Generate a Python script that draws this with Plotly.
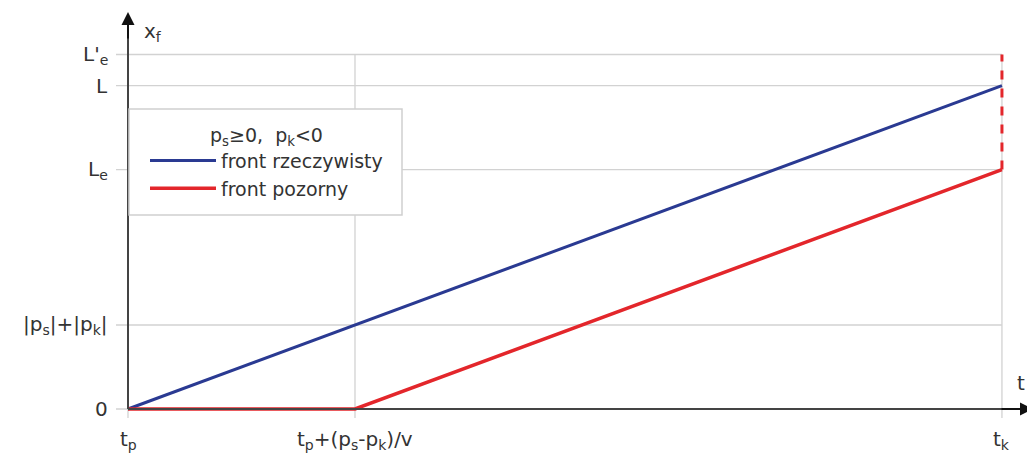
import plotly.graph_objects as go

# ---- data (schematic units: tp = 0, (ps-pk)/v = 1, |ps|+|pk| = 1) ----
x_ticks = [0.0, 1.0, 3.85]
x_labels = ["t<sub>p</sub>", "t<sub>p</sub>+(p<sub>s</sub>-p<sub>k</sub>)/v", "t<sub>k</sub>"]
y_ticks = [0.0, 1.0, 2.85, 3.85, 4.22]
y_labels = ["0", "|p<sub>s</sub>|+|p<sub>k</sub>|", "L<sub>e</sub>", "L", "L'<sub>e</sub>"]

real_x = [0.0, 3.85]
real_y = [0.0, 3.85]
apparent_x = [0.0, 1.0, 3.85]
apparent_y = [0.0, 0.0, 2.85]
jump_x = [3.85, 3.85]
jump_y = [2.85, 4.22]

W, H = 1035, 459
OFF = 8  # page body margin offset
sx, sy = 227.0, 84.0
x0p, y0p = 128.0 - OFF, 409.0 - OFF
xr = [-x0p / sx, (W - x0p) / sx]
yr = [-(H - y0p) / sy, y0p / sy]


def px(p):
    return (p - OFF - x0p) / sx


def py(p):
    return (y0p - (p - OFF)) / sy


BLUE = "#2a3a92"
RED = "#e3262b"
GRID = "#d2d2d2"
AX = "#444444"
TXT = "#333333"
FONT = "DejaVu Sans"
TS = 20

fig = go.Figure()

shapes = []
for yv in y_ticks:
    shapes.append(dict(type="line", xref="x", yref="y", x0=px(116), x1=x_ticks[-1],
                       y0=yv, y1=yv, line=dict(color=GRID, width=1.3), layer="below"))
for xv in x_ticks:
    shapes.append(dict(type="line", xref="x", yref="y", x0=xv, x1=xv,
                       y0=py(418), y1=y_ticks[-1], line=dict(color=GRID, width=1.3), layer="below"))
shapes.append(dict(type="line", xref="x", yref="y", x0=0, x1=px(1020), y0=0, y1=0,
                   line=dict(color=AX, width=2)))
shapes.append(dict(type="line", xref="x", yref="y", x0=0, x1=0, y0=0, y1=py(25),
                   line=dict(color=AX, width=2)))
# legend box
shapes.append(dict(type="rect", xref="x", yref="y", x0=px(129), x1=px(402), y0=py(215), y1=py(109),
                   fillcolor="white", line=dict(color="#cfcfcf", width=1.5), layer="above"))
fig.update_layout(shapes=shapes)

fig.add_trace(go.Scatter(x=real_x, y=real_y, mode="lines", name="front rzeczywisty",
                         line=dict(color=BLUE, width=3)))
fig.add_trace(go.Scatter(x=apparent_x, y=apparent_y, mode="lines", name="front pozorny",
                         line=dict(color=RED, width=3.5)))
fig.add_trace(go.Scatter(x=jump_x, y=jump_y, mode="lines", showlegend=False,
                         line=dict(color=RED, width=3, dash="dash")))

ann = []
ann.append(dict(x=0, y=py(12), ax=0, ay=py(40), xref="x", yref="y",
                axref="x", ayref="y", showarrow=True, arrowhead=2, arrowsize=1.3,
                arrowwidth=2, arrowcolor="#111", text=""))
ann.append(dict(x=px(1033), y=0, ax=px(1000), ay=0, xref="x", yref="y",
                axref="x", ayref="y", showarrow=True, arrowhead=2, arrowsize=1.3,
                arrowwidth=2, arrowcolor="#111", text=""))
ann.append(dict(x=px(142), y=py(32), xref="x", yref="y", text="x<sub>f</sub>",
                showarrow=False, xanchor="left", yanchor="middle",
                font=dict(family=FONT, size=TS, color=TXT)))
ann.append(dict(x=px(1021), y=py(383), xref="x", yref="y", text="t",
                showarrow=False, xanchor="center", yanchor="middle",
                font=dict(family=FONT, size=TS, color=TXT)))
for yv, lab in zip(y_ticks, y_labels):
    ann.append(dict(x=px(110), y=yv, xref="x", yref="y", text=lab, showarrow=False,
                    xanchor="right", yanchor="middle", font=dict(family=FONT, size=TS, color=TXT)))
for xv, lab in zip(x_ticks, x_labels):
    ann.append(dict(x=xv, y=py(440), xref="x", yref="y", text=lab, showarrow=False,
                    xanchor="center", yanchor="middle", font=dict(family=FONT, size=TS, color=TXT)))
fig.update_layout(annotations=ann)

fig.update_layout(
    width=W, height=H,
    margin=dict(l=0, r=0, t=0, b=0),
    paper_bgcolor="white", plot_bgcolor="white",
    xaxis=dict(range=xr, visible=False, fixedrange=True),
    yaxis=dict(range=yr, visible=False, fixedrange=True),
    showlegend=True,
    legend=dict(x=(145 - OFF) / W, y=1 - (117 - OFF) / H, xanchor="left", yanchor="top",
                bgcolor="rgba(0,0,0,0)", borderwidth=0,
                title=dict(text="p<sub>s</sub>≥0,  p<sub>k</sub><0", side="top center",
                           font=dict(family=FONT, size=19, color=TXT)),
                font=dict(family=FONT, size=19, color=TXT),
                itemwidth=66, tracegroupgap=0),
)

fig.write_html("out.html")
